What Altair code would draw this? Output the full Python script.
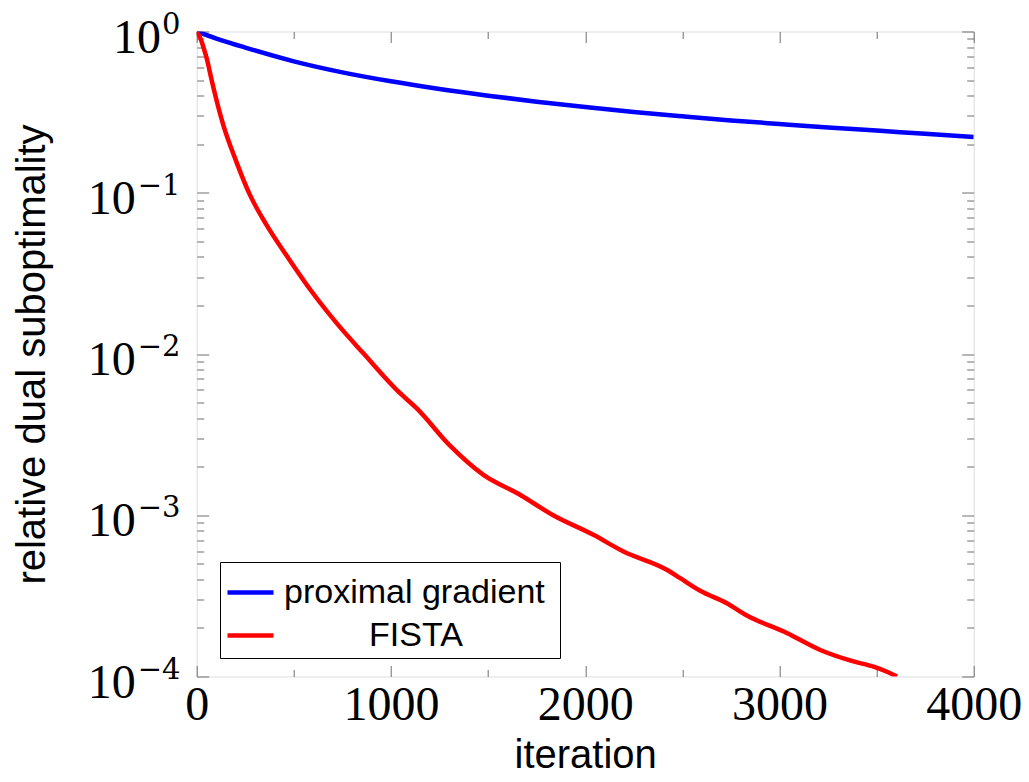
import json
import altair as alt
import pandas as pd

# ---------------- data ----------------
series = ["proximal gradient", "FISTA"]
colors = ["#0000ff", "#ff0000"]

prox_iter = [0, 125, 250, 500, 750, 1000, 1250, 1500, 1750, 2000, 2250, 2500, 2750,
             3000, 3250, 3500, 3750, 4000]
prox_val = [1.0, 0.885, 0.795, 0.653, 0.558, 0.491, 0.44, 0.40, 0.367, 0.340, 0.317, 0.298,
            0.281, 0.267, 0.254, 0.243, 0.232, 0.222]

fista_iter = [0, 20, 43, 56, 65, 94, 137, 197, 274, 360, 472, 592, 729, 858, 1047, 1133,
              1304, 1476, 1660, 1835, 2042, 2197, 2420, 2489, 2592, 2729, 2830, 3038, 3210,
              3381, 3484, 3553, 3605]
fista_val = [1.0, 0.9, 0.74, 0.65, 0.58, 0.41, 0.263, 0.164, 0.097, 0.063, 0.0393, 0.0244,
             0.0151, 0.0101, 0.00571, 0.0046, 0.0027, 0.00178, 0.00135, 0.001, 0.000756,
             0.000596, 0.000459, 0.000407, 0.00034, 0.000285, 0.00024, 0.000186, 0.000146,
             0.000124, 0.000115, 0.000107, 0.0001]

x_tick_major = [0, 1000, 2000, 3000, 4000]
x_tick_minor = [500, 1500, 2500, 3500]
y_tick_major = [1, 0.1, 0.01, 0.001, 0.0001]
y_tick_minor = [m * 10.0 ** e for e in range(-4, 0) for m in range(2, 10)]
y_base_label = "10"
y_exp_labels = ["0", "\u22121", "\u22122", "\u22123", "\u22124"]

df = pd.concat([
    pd.DataFrame({"iteration": prox_iter, "value": prox_val, "method": series[0]}),
    pd.DataFrame({"iteration": fista_iter, "value": fista_val, "method": series[1]}),
], ignore_index=True)

# ---------------- style ----------------
W, H = 777, 645
TICK = "#6e6e6e"
SERIF = "Liberation Serif"
SANS = "Liberation Sans"
NBSP = "\u00a0"
ZWSP = "\u200b"  # keeps the non-breaking spaces from being trimmed

xs = alt.Scale(domain=[0, 4000], nice=False, zero=False)
ys = alt.Scale(type="log", domain=[1e-4, 1], nice=False)


def tick_axis(orient, values, size):
    return alt.Axis(orient=orient, values=values, tickSize=size, offset=-size,
                    labels=False, domain=False, grid=False, title=None,
                    tickColor=TICK, tickWidth=1)


base = alt.Chart(df)

x_main = alt.Axis(
    orient="bottom", values=x_tick_major, tickSize=11, offset=-11, domain=False, grid=False,
    tickColor=TICK, tickWidth=1, format="d",
    labelFont=SERIF, labelFontSize=48, labelColor="black", labelPadding=43,
    labelBaseline="alphabetic", labelAlign="center", labelFlush=False, labelOverlap=False,
    title="iteration", titleFont=SANS, titleFontSize=40, titleFontWeight="normal",
    titleColor="black", titleBaseline="alphabetic", titleAlign="center",
    titleX=W / 2, titleY=102,
)

y_main = alt.Axis(
    orient="left", values=y_tick_major, tickSize=12, offset=-12, domain=False, grid=False,
    tickColor=TICK, tickWidth=1,
    labelExpr=json.dumps(y_base_label),
    labelFont=SERIF, labelFontSize=48, labelColor="black", labelAlign="right",
    labelBaseline="alphabetic", labelOffset=20.5,
    labelPadding={"condition": {"test": "datum.value >= 0.5", "value": 36.2}, "value": 61.5},
    labelOverlap=False,
    title="relative dual suboptimality", titleFont=SANS, titleFontSize=40,
    titleFontWeight="normal", titleColor="black", titleAngle=270,
    titleBaseline="alphabetic", titleAlign="center", titleX=-164.7, titleY=H / 2,
)

y_exp = alt.Axis(
    orient="left", values=y_tick_major, ticks=False, tickSize=0, domain=False, grid=False,
    labelExpr=json.dumps(y_exp_labels) + "[round(-log(datum.value)/LN10)]",
    labelFont="DejaVu Serif", labelFontSize=29, labelColor="black", labelAlign="right",
    labelBaseline="alphabetic", labelOffset=1.5, labelPadding=16.7, labelOverlap=False,
    title=None,
)

legend_expr = (
    "datum.label == " + json.dumps(series[1]) + " ? "
    + json.dumps(ZWSP + NBSP * 9 + series[1]) + " : datum.label + "
    + json.dumps(NBSP + ZWSP)
)

legend = alt.Legend(
    orient="none", legendX=23.3, legendY=530.5, title=None,
    symbolType="stroke", symbolSize=2116, symbolStrokeWidth=4.5,
    labelFont=SANS, labelFontSize=34, labelColor="black", labelOffset=8, labelLimit=0,
    labelExpr=legend_expr,
    strokeColor="black", fillColor="white", padding=5, rowPadding=0, cornerRadius=0,
)

lines = base.mark_line(strokeWidth=4.5, clip=True, interpolate="monotone").encode(
    x=alt.X("iteration:Q", scale=xs, axis=x_main),
    y=alt.Y("value:Q", scale=ys, axis=y_main),
    color=alt.Color("method:N", scale=alt.Scale(domain=series, range=colors), legend=legend),
)


def ghost(xaxis, yaxis):
    return base.mark_line(strokeOpacity=0, clip=True).encode(
        x=alt.X("iteration:Q", scale=xs, axis=xaxis),
        y=alt.Y("value:Q", scale=ys, axis=yaxis),
    )


g2 = ghost(tick_axis("bottom", x_tick_minor, 7), y_exp)
g3 = ghost(tick_axis("top", x_tick_major, 11), tick_axis("left", y_tick_minor, 7))
g4 = ghost(tick_axis("top", x_tick_minor, 7), tick_axis("right", y_tick_major, 12))
g5 = ghost(None, tick_axis("right", y_tick_minor, 7))

chart = alt.layer(lines, g2, g3, g4, g5).resolve_axis(
    x="independent", y="independent"
).properties(
    width=W, height=H,
    autosize=alt.AutoSizeParams(type="none"),
    padding={"left": 188.7, "top": 23.5, "right": 47.3, "bottom": 93.5},
).configure_view(
    stroke="black", strokeWidth=1.5
).configure(background="white")

chart.save("out.html", embed_options={"renderer": "svg", "actions": False})
